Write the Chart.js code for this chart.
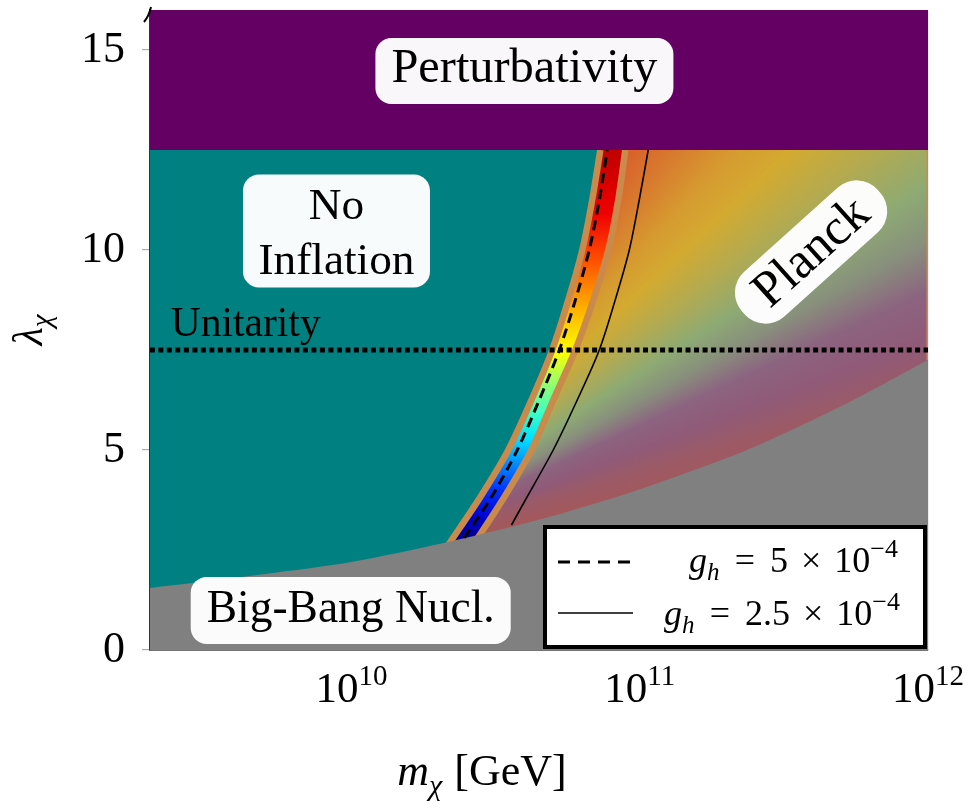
<!DOCTYPE html>
<html>
<head>
<meta charset="utf-8">
<script src="https://cdn.jsdelivr.net/npm/chart.js@4.4.0/dist/chart.umd.min.js"></script>
<style>
  html, body { margin: 0; padding: 0; background: #ffffff; }
  #wrap { width: 970px; height: 809px; position: relative; }
</style>
</head>
<body>
<div id="wrap"><canvas id="chart"></canvas></div>
<script>
// ---------------- data ----------------
const massRange = [2e9, 1e12];          // m_chi [GeV]
const lambdaRange = [0, 16];            // lambda_chi
const xTickValues = [1e10, 1e11, 1e12];
const yTickValues = [0, 5, 10, 15];

// Big-Bang nucleosynthesis bound (grey region below)
const bbnMass   = [2e9, 5e9, 1e10, 2.05e10, 3.5e10, 5.5e10, 1e11, 2.25e11, 3.16e11, 5.4e11, 1e12];
const bbnLambda = [1.55, 1.9, 2.2, 2.66, 3.06, 3.44, 4.02, 4.94, 5.41, 6.22, 7.25];

// "No inflation" edge (left edge of coloured band; first points lie under the BBN region)
const infMass   = [1.376e10, 1.72e10, 2.02e10, 2.19e10, 2.80e10, 3.50e10, 4.21e10, 4.97e10, 5.65e10, 6.32e10, 6.84e10, 7.30e10];
const infLambda = [0.5, 1.5, 2.3, 2.675, 3.825, 5.0, 6.25, 7.5, 8.75, 10, 11.25, 12.5];

// Planck edge (right edge of coloured band; first points lie under the BBN region)
const plkMass   = [1.68e10, 2.10e10, 2.46e10, 2.67e10, 3.39e10, 4.21e10, 5.01e10, 5.98e10, 6.90e10, 7.78e10, 8.42e10, 8.91e10];
const plkLambda = [0.5, 1.5, 2.3, 2.675, 3.825, 5.0, 6.25, 7.5, 8.75, 10, 11.25, 12.5];

// g_h = 5e-4 (dashed)
const dashMass   = [2.46e10, 3.06e10, 3.76e10, 4.48e10, 5.26e10, 5.98e10, 6.68e10, 7.24e10, 7.71e10];
const dashLambda = [2.8, 3.825, 5.0, 6.25, 7.5, 8.75, 10, 11.25, 12.5];

// g_h = 2.5e-4 (solid)
const solidMass   = [3.59e10, 4.01e10, 5.01e10, 6.07e10, 7.24e10, 8.22e10, 9.20e10, 9.96e10, 1.07e11];
const solidLambda = [3.125, 3.75, 5.0, 6.25, 7.5, 8.75, 10, 11.25, 12.5];

const unitarityLambda = 7.5;
const perturbativityLambda = 12.5;
const jetLambdaRange = [2.6, 12.5];

const seriesLabels = ['g_h = 5 × 10^-4', 'g_h = 2.5 × 10^-4'];

// ---------------- styling ----------------
const FONT = 'Liberation Serif';
const TEAL = '#008080', GREY = '#808080', PURPLE = '#640064', TAN = '#c98a4c';

const jetStops = [
  [0.00, '#00007a'], [0.07, '#0000d0'], [0.14, '#0030ff'], [0.21, '#0090ff'],
  [0.27, '#00e0ff'], [0.34, '#40ffc0'], [0.42, '#a0ff60'], [0.49, '#ffff00'],
  [0.60, '#ffb000'], [0.72, '#ff5000'], [0.84, '#f00000'], [1.00, '#c00000']
];
// conic gradient around a point at the BBN edge (angle above horizontal -> colour)
const planckCentre = { m: 1e10, l: 2.25 };
const planckAngles = [
  [60, '#d8502a'], [57, '#d85a2c'], [52, '#d8782e'], [47, '#d69a30'], [43, '#d4aa30'],
  [38, '#b4aa50'], [33, '#8eaa74'], [29, '#88907c'], [25, '#8c6480'], [21, '#905a78'],
  [17, '#9c5a66'], [12, '#a4585a']
];

const pts = (ms, ls) => ms.map((m, i) => ({ x: m, y: ls[i] }));

function jetFill(ctx) {
  const ch = ctx.chart;
  if (!ch.chartArea) return 'rgba(0,0,0,0)';
  const y0 = ch.scales.y.getPixelForValue(jetLambdaRange[0]);
  const y1 = ch.scales.y.getPixelForValue(jetLambdaRange[1]);
  const g = ch.ctx.createLinearGradient(0, y0, 0, y1);
  jetStops.forEach(([o, c]) => g.addColorStop(o, c));
  return g;
}

function planckFill(ctx) {
  const ch = ctx.chart;
  if (!ch.chartArea) return 'rgba(0,0,0,0)';
  const cx = ch.scales.x.getPixelForValue(planckCentre.m);
  const cy = ch.scales.y.getPixelForValue(planckCentre.l);
  const c = ch.ctx;
  if (c.createConicGradient) {
    const start = -planckAngles[0][0] * Math.PI / 180;
    const g = c.createConicGradient(start, cx, cy);
    planckAngles.forEach(([a, col]) => g.addColorStop((planckAngles[0][0] - a) / 360, col));
    g.addColorStop(0.5, planckAngles[planckAngles.length - 1][1]);
    g.addColorStop(1.0, planckAngles[0][1]);
    return g;
  }
  const g = c.createLinearGradient(600, 150, 800, 480);
  planckAngles.forEach(([a, col], i) => g.addColorStop(i / (planckAngles.length - 1), col));
  return g;
}

const base = { pointRadius: 0, borderWidth: 0, tension: 0.3 };
const NONE = 'rgba(0,0,0,0)';

const datasets = [
  { ...base, label: 'Planck', order: 20, data: pts(massRange, [perturbativityLambda, perturbativityLambda]),
    fill: 'origin', backgroundColor: planckFill, borderColor: NONE },
  { ...base, label: 'band', order: 19, data: [{ x: 1e10, y: 0 }].concat(pts(plkMass, plkLambda)),
    fill: 'end', backgroundColor: jetFill, borderColor: NONE },
  { ...base, label: 'No Inflation', order: 18, data: [{ x: massRange[0], y: 0 }].concat(pts(infMass, infLambda)),
    fill: 'end', backgroundColor: TEAL, borderColor: NONE },
  { ...base, label: 'inf edge', order: 17, data: pts(infMass, infLambda), fill: false,
    borderColor: TAN, borderWidth: 6.5 },
  { ...base, label: 'planck edge', order: 16, data: pts(plkMass, plkLambda), fill: false,
    borderColor: TAN, borderWidth: 6.5 },
  { ...base, label: 'planck right', order: 15,
    data: pts([massRange[1], massRange[1]], [bbnLambda[bbnLambda.length - 1], perturbativityLambda]),
    fill: false, borderColor: TAN, borderWidth: 3 },
  { ...base, label: 'Big-Bang Nucl.', order: 14, data: pts(bbnMass, bbnLambda),
    fill: 'origin', backgroundColor: GREY, borderColor: NONE },
  { ...base, label: 'Perturbativity', order: 13, data: pts(massRange, [perturbativityLambda, perturbativityLambda]),
    fill: 'end', backgroundColor: PURPLE, borderColor: NONE },
  { ...base, label: 'Unitarity', order: 12, data: pts(massRange, [unitarityLambda, unitarityLambda]),
    fill: false, borderColor: '#000', borderWidth: 5, borderDash: [5, 3.5], borderCapStyle: 'butt' },
  { ...base, label: seriesLabels[0], order: 11, data: pts(dashMass, dashLambda),
    fill: false, borderColor: '#000', borderWidth: 3, borderDash: [10, 6] },
  { ...base, label: seriesLabels[1], order: 10, data: pts(solidMass, solidLambda),
    fill: false, borderColor: '#000', borderWidth: 1.6 }
];

// ---------------- text helpers ----------------
function fontStr(s) { return (s.italic ? 'italic ' : '') + s.size + 'px "' + FONT + '"'; }
function drawSegs(c, segs, x, y, align) {
  let total = 0;
  segs.forEach(s => { c.font = fontStr(s); s.w = c.measureText(s.t).width; total += s.w + (s.gap || 0); });
  total -= (segs[segs.length - 1].gap || 0);
  let cx = align === 'right' ? x - total : align === 'center' ? x - total / 2 : x;
  c.textAlign = 'left'; c.textBaseline = 'alphabetic';
  segs.forEach(s => { c.font = fontStr(s); c.fillText(s.t, cx, y + (s.dy || 0)); cx += s.w + (s.gap || 0); });
}
function fitSize(c, text, width, italic) {
  c.font = (italic ? 'italic ' : '') + '100px "' + FONT + '"';
  return 100 * width / c.measureText(text).width;
}
function roundBox(c, cx, cy, w, h, r) {
  const x = cx - w / 2, y = cy - h / 2;
  c.beginPath();
  c.moveTo(x + r, y);
  c.arcTo(x + w, y, x + w, y + h, r);
  c.arcTo(x + w, y + h, x, y + h, r);
  c.arcTo(x, y + h, x, y, r);
  c.arcTo(x, y, x + w, y, r);
  c.closePath();
  c.fillStyle = '#ffffff';
  c.fill();
}

const regionLabels = [
  { lines: ['Perturbativity'], m: 3.98e10, l: 14.475, w: 298, h: 66, r: 16, fitW: 266, fitLine: 0, base: [11] },
  { lines: ['No', 'Inflation'], m: 8.87e9, l: 10.475, w: 187, h: 113, r: 16, fitW: 156, fitLine: 1, base: [-12.5, 42.5] },
  { lines: ['Big-Bang Nucl.'], m: 9.94e9, l: 0.99, w: 320, h: 67, r: 16, fitW: 288, fitLine: 0, base: [12] },
  { lines: ['Planck'], m: 3.93e11, l: 9.95, w: 182, h: 60, r: 28, fitW: 138, fitLine: 0, base: [15], rot: -42 }
];

const overlay = {
  id: 'overlay',
  afterDraw(chart) {
    const c = chart.ctx, xs = chart.scales.x, ys = chart.scales.y, a = chart.chartArea;
    c.save();
    c.fillStyle = '#000';

    // axis arrow at top of y axis
    c.strokeStyle = '#000'; c.lineWidth = 2; c.setLineDash([]);
    c.beginPath();
    c.moveTo(a.left - 6, a.top + 12); c.quadraticCurveTo(a.left - 1, a.top + 6, a.left + 1, a.top - 3);
    c.stroke();

    // x tick labels 10^n
    xTickValues.forEach(v => {
      const px = xs.getPixelForValue(v);
      const e = String(Math.round(Math.log10(v)));
      c.fillStyle = '#000';
      drawSegs(c, [{ t: '10', size: 43 }, { t: e, size: 29, dy: -17 }], px, a.bottom + 52, 'center');
    });

    // axis titles
    drawSegs(c, [{ t: 'm', size: 44, italic: true }, { t: 'χ', size: 30, italic: true, dy: 10, gap: 12 },
                 { t: '[GeV]', size: 44 }], 482, a.bottom + 135, 'center');
    c.save();
    c.translate(42, 330); c.rotate(-Math.PI / 2);
    drawSegs(c, [{ t: 'λ', size: 42, italic: true }, { t: 'χ', size: 29, italic: true, dy: 9 }], 0, 0, 'center');
    c.restore();

    // region labels
    regionLabels.forEach(L => {
      const px = xs.getPixelForValue(L.m), py = ys.getPixelForValue(L.l);
      c.save();
      c.translate(px, py);
      if (L.rot) c.rotate(L.rot * Math.PI / 180);
      c.globalAlpha = 0.97;
      roundBox(c, 0, 0, L.w, L.h, L.r);
      c.globalAlpha = 1;
      const size = fitSize(c, L.lines[L.fitLine], L.fitW, false);
      c.fillStyle = '#000';
      L.lines.forEach((t, i) => drawSegs(c, [{ t, size }], 0, L.base[i], 'center'));
      c.restore();
    });

    // Unitarity text
    const usz = fitSize(c, 'Unitarity', 150, false);
    c.fillStyle = '#000';
    drawSegs(c, [{ t: 'Unitarity', size: usz }], xs.getPixelForValue(2.36e9), ys.getPixelForValue(7.85), 'left');

    // legend box
    const lx = 545, ly = 527, lw = 380, lh = 120;
    c.fillStyle = '#fff'; c.fillRect(lx, ly, lw, lh);
    c.strokeStyle = '#000'; c.lineWidth = 4; c.setLineDash([]);
    c.strokeRect(lx, ly, lw, lh);
    const dsDash = chart.data.datasets[9], dsSolid = chart.data.datasets[10];
    c.lineWidth = dsDash.borderWidth; c.setLineDash([12, 8]);
    c.beginPath(); c.moveTo(558, 562); c.lineTo(632, 562); c.stroke();
    c.lineWidth = dsSolid.borderWidth; c.setLineDash([]);
    c.beginPath(); c.moveTo(558, 613); c.lineTo(633, 613); c.stroke();
    c.fillStyle = '#000';
    const S = 36;
    const mk = (num) => [
      { t: 'g', size: S, italic: true }, { t: 'h', size: Math.round(S * 0.7), italic: true, dy: 8, gap: 0.42 * S },
      { t: '=', size: S, gap: 0.42 * S }, { t: num, size: S, gap: 0.36 * S }, { t: '×', size: S, gap: 0.36 * S },
      { t: '10', size: S }, { t: '−4', size: Math.round(S * 0.72), dy: -15 }
    ];
    drawSegs(c, mk('5'), 898, 572, 'right');
    drawSegs(c, mk('2.5'), 900, 625, 'right');
    c.restore();
  }
};

const chart = new Chart(document.getElementById('chart'), {
  type: 'line',
  data: { datasets },
  options: {
    responsive: true,
    maintainAspectRatio: false,
    animation: false,
    events: [],
    layout: { padding: { top: 10, right: 42, left: 0, bottom: 0 } },
    plugins: { legend: { display: false }, tooltip: { enabled: false } },
    scales: {
      x: {
        type: 'logarithmic', min: massRange[0], max: massRange[1], z: 1,
        afterBuildTicks: s => { s.ticks = xTickValues.map(v => ({ value: v })); },
        afterFit: s => { s.height = 159; s.paddingLeft = 0; s.paddingRight = 0; },
        ticks: { display: false },
        grid: { color: 'rgba(0,0,0,0.32)', lineWidth: 1.2, drawTicks: false },
        border: { display: true, color: '#000', width: 1.5 }
      },
      y: {
        type: 'linear', min: lambdaRange[0], max: lambdaRange[1], z: 1,
        afterBuildTicks: s => { s.ticks = yTickValues.map(v => ({ value: v })); },
        afterFit: s => { s.width = 150; s.paddingTop = 0; s.paddingBottom = 0; },
        ticks: { font: { family: FONT, size: 44 }, color: '#000', padding: 17 },
        grid: { color: 'rgba(0,0,0,0.32)', lineWidth: 1.2, tickLength: 8 },
        border: { display: true, color: '#333', width: 1.2 }
      }
    }
  },
  plugins: [overlay]
});
chart.update();
</script>
</body>
</html>
